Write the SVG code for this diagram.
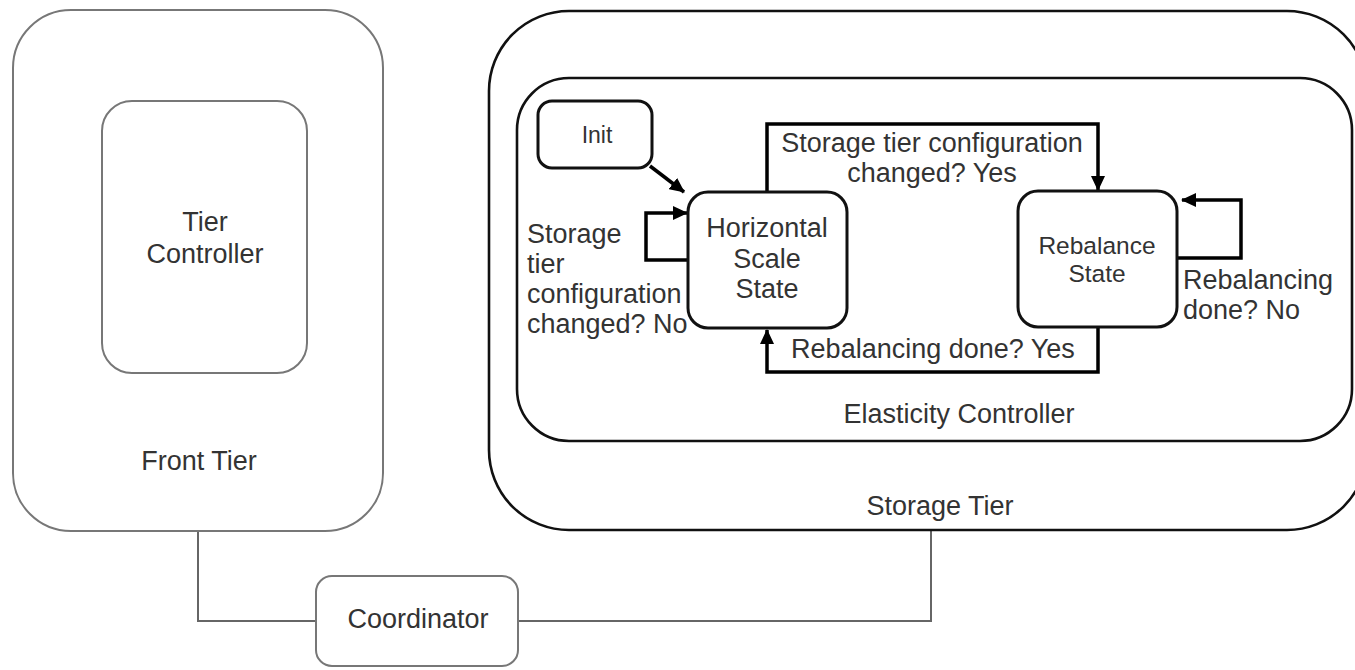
<svg xmlns="http://www.w3.org/2000/svg" width="1355" height="670" viewBox="0 0 1355 670">
  <defs>
    <marker id="arrow" markerUnits="userSpaceOnUse" markerWidth="16" markerHeight="14" refX="14" refY="7" orient="auto">
      <path d="M0,0 L15,7 L0,14 Z" fill="#000"/>
    </marker>
    <style>
      text { font-family: "Liberation Sans", Arial, sans-serif; font-size: 27px; fill: #333; }
      .mid { text-anchor: middle; }
      .grey { fill: #fff; stroke: #777; stroke-width: 2; }
      .frame { fill: none; stroke: #111; stroke-width: 2.6; }
      .state { fill: #fff; stroke: #111; stroke-width: 3; }
      .flow { fill: none; stroke: #000; stroke-width: 3.5; }
      .link { fill: none; stroke: #666; stroke-width: 2; }
    </style>
  </defs>
  <rect width="1355" height="670" fill="#fff"/>

  <!-- links between tiers and coordinator -->
  <g id="links">
    <path class="link" d="M198,531 V621 H316"/>
    <path class="link" d="M518,621 H931 V530"/>
  </g>

  <g id="front-tier">
    <rect class="grey" x="13" y="10" width="370" height="521" rx="58"/>
    <text class="mid" x="199" y="470">Front Tier</text>
  </g>

  <g id="tier-controller">
    <rect class="grey" x="102" y="101" width="205" height="272" rx="30"/>
    <text class="mid" x="205" y="231">Tier</text>
    <text class="mid" x="205" y="263">Controller</text>
  </g>

  <g id="coordinator">
    <rect class="grey" x="316" y="576" width="202" height="90" rx="16"/>
    <text class="mid" x="418" y="628">Coordinator</text>
  </g>

  <g id="storage-tier">
    <rect class="frame" x="489" y="11" width="878" height="519" rx="80"/>
    <text class="mid" x="940" y="515">Storage Tier</text>
  </g>

  <g id="elasticity-controller">
    <rect class="frame" x="517" y="78" width="835" height="363" rx="52"/>
    <text class="mid" x="959" y="423">Elasticity Controller</text>
  </g>

  <!-- state transitions -->
  <g id="transitions">
    <path class="flow" d="M650,166 L684,192" marker-end="url(#arrow)"/>
    <path class="flow" d="M688,260 H646 V213 H687" marker-end="url(#arrow)"/>
    <path class="flow" d="M767,192 V124 H1098 V190" marker-end="url(#arrow)"/>
    <path class="flow" d="M1098,327 V372 H767 V330" marker-end="url(#arrow)"/>
    <path class="flow" d="M1177,258 H1241 V200 H1182" marker-end="url(#arrow)"/>
    <text class="mid" x="932" y="152">Storage tier configuration</text>
    <text class="mid" x="932" y="182">changed? Yes</text>
    <text x="527" y="243">Storage</text>
    <text x="527" y="273">tier</text>
    <text x="527" y="303">configuration</text>
    <text x="527" y="333">changed? No</text>
    <text class="mid" x="933" y="358">Rebalancing done? Yes</text>
    <text x="1183" y="289">Rebalancing</text>
    <text x="1183" y="319">done? No</text>
  </g>

  <g id="init">
    <rect class="state" x="538" y="101" width="114" height="67" rx="14"/>
    <text class="mid" x="597" y="143" style="font-size:23px">Init</text>
  </g>

  <g id="horizontal-scale-state">
    <rect class="state" x="688" y="192" width="159" height="136" rx="20"/>
    <text class="mid" x="767" y="237">Horizontal</text>
    <text class="mid" x="767" y="268">Scale</text>
    <text class="mid" x="767" y="298">State</text>
  </g>

  <g id="rebalance-state">
    <rect class="state" x="1018" y="191" width="159" height="136" rx="20"/>
    <text class="mid" x="1097" y="254" style="font-size:24.5px">Rebalance</text>
    <text class="mid" x="1097" y="282" style="font-size:24.5px">State</text>
  </g>
</svg>
